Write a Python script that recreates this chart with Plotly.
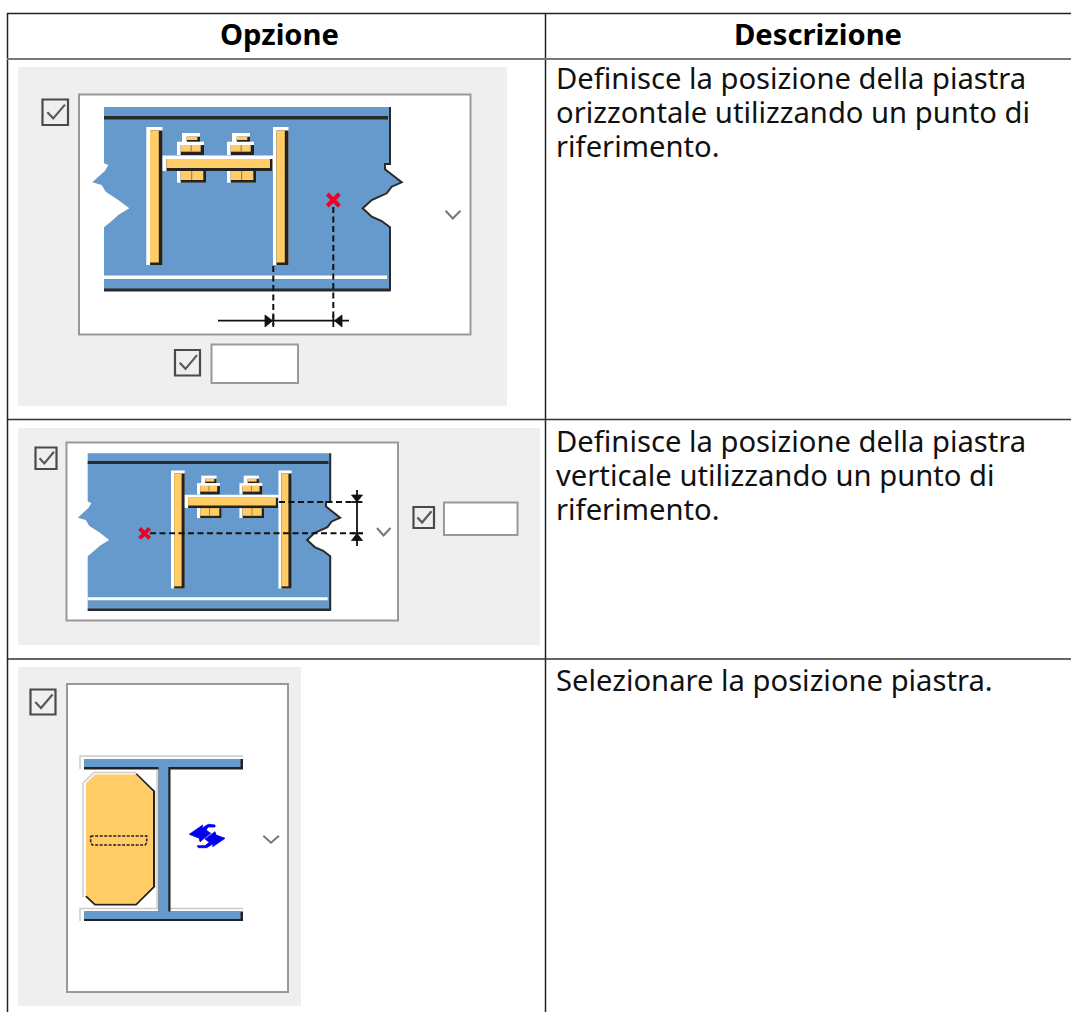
import plotly.graph_objects as go

# ---------- table content ----------
headers = ["Opzione", "Descrizione"]
header_centers = [279, 817.5]
descriptions = [
    ["Definisce la posizione della piastra", "orizzontale utilizzando un punto di", "riferimento."],
    ["Definisce la posizione della piastra", "verticale utilizzando un punto di", "riferimento."],
    ["Selezionare la posizione piastra."],
]
description_first_line = [78, 440.5, 680]
line_step = 34.2
text_x = 554

# ---------- table rules: (x0, y0, x1, y1, colour, width) ----------
table_rules = [
    (7, 13.5, 1071, 13.5, "#222222", 1.5),
    (7.5, 13, 7.5, 1012, "#222222", 1.5),
    (545.5, 13, 545.5, 1012, "#222222", 1.5),
    (7, 59, 1071, 59, "#777777", 2),
    (7, 419.5, 1071, 419.5, "#333333", 1.5),
    (7, 659, 1071, 659, "#333333", 1.5),
]

# ---------- dialog parts ----------
gray_panels = [(18, 67, 507, 406), (18, 428, 540, 645), (18, 667, 301, 1006)]
white_panels = [(79, 94.5, 470.5, 334.5), (66.5, 442.5, 398, 620.5), (67, 684, 288, 992)]
inputs = [(211.5, 344.5, 298, 383), (444, 502.5, 517.5, 535)]
checkboxes = [(42.5, 99.5, 68, 125), (175, 350, 200, 375.5), (35.5, 447.5, 56.5, 469),
              (413.5, 507, 434, 528), (30.5, 689.5, 55.5, 714.5)]
chevrons = [[(445.6, 210.7), (452.8, 218.5), (460.5, 210.7)],
            [(377, 528), (383.5, 535.5), (390.5, 528)],
            [(263.3, 835.7), (271, 842.7), (279, 835.7)]]

# plate outline (row 1 coordinates)
plate_left = [(104, 107), (104, 163.3), (108.3, 165), (105, 170.7), (92.3, 182.3), (101.7, 185), (105.7, 191.7),
              (118.3, 200), (129.3, 208.3), (118.3, 215), (111.7, 221), (104, 227.3), (104, 291)]
plate_right = [(390, 291), (390, 227.3), (381.7, 221), (371.7, 216.7), (362.7, 208.3), (371.7, 200),
               (386.7, 193.3), (391.7, 186.7), (401.7, 182.3), (385, 169.3), (385, 164), (390, 164), (390, 107)]

# stiffener group (row 1 coordinates): (x0, y0, x1, y1, colour)
WHITE, ORANGE, DARK = "#FFFFFF", "#FFCC66", "#222222"
stiffener_parts = [
    (146.3, 127, 162.5, 265, WHITE), (150, 130.5, 162.5, 265, DARK), (150, 130.5, 158.8, 262.5, ORANGE),
    (273, 127, 288.5, 265, WHITE), (276.5, 130.5, 288.5, 265, DARK), (276.5, 130.5, 284.8, 262.5, ORANGE),
    (162.5, 155.5, 273, 171, WHITE), (166.5, 159, 272.5, 171, DARK), (166.5, 159, 270, 168, ORANGE),
]
bolt_parts = [
    (182, 133, 200, 142.8, WHITE), (186.7, 136.7, 200, 142.8, DARK), (186.7, 136.7, 197.3, 140, ORANGE),
    (177, 141.7, 204, 155, WHITE), (180.7, 145, 204, 155, DARK), (180.7, 145, 200.7, 151.7, ORANGE),
    (190.6, 145, 191.6, 151.7, "#887755"),
    (177, 171, 206, 182.7, WHITE), (180.7, 171, 206, 182.7, DARK), (180.7, 171, 203.3, 180, ORANGE),
    (191.2, 171, 192.2, 180, "#887755"),
]
bolt_offset = 50

# transforms for rows: plate and stiffener group (x origin, y origin, x scale, y scale)
plate_maps = [(104, 107, 1.0, 1.0), (87.7, 453.3, 0.848, 0.855)]
group_maps = [(146.3, 127, 1.0, 1.0), (171, 470.5, 0.848, 0.855)]

# section drawing (row 3)
section_gray_lines = [
    [(80, 769), (80, 756), (243, 756)],
    [(80, 921), (80, 908.5), (158, 908.5)],
    [(170, 908.5), (243, 908.5)],
    [(157, 770), (157, 908.5)],
    [(83, 897), (83, 783), (94, 772.5), (136, 772.5)],
]
section_rects = [
    (84, 759, 243, 769.5, DARK), (84, 759, 240.5, 767, "#6699CC"),
    (84, 911.5, 243, 921, DARK), (84, 911.5, 240.5, 919, "#6699CC"),
    (158.5, 767, 170.5, 911.5, DARK), (158.5, 767, 168.3, 919, "#6699CC"),
]
octagon = [(95, 774.5), (136, 774.5), (153, 791.5), (153, 886.5), (136, 903.5),
           (95, 903.5), (86, 895), (86, 783)]
octagon_shadow = [(136, 774), (154, 791.5), (154, 886.5), (136, 904.5), (95, 904.5), (86, 896)]
slot = [(90.7, 836), (146.7, 836), (146.7, 843), (145, 845), (92.5, 845), (90.7, 843), (90.7, 836)]
swap_a = [(189.3, 834.3), (202.7, 825), (201.7, 828.3), (208.3, 824.3), (215, 825), (215, 827), (208.3, 827),
          (206, 830), (210.7, 833.3), (200, 841.7), (199.3, 838.3)]
swap_b = [(225, 838.3), (212.7, 846.7), (213.3, 843.7), (206.7, 847.7), (198.3, 847.7), (197.3, 845.7),
          (205, 845.7), (209.3, 842.3), (205, 839), (215, 831.7), (216, 835)]

# row annotation marks
red_marks = [(333.3, 200, 6), (144.6, 533.3, 5)]
dashed = [[(333.3, 207), (333.3, 320)], [(273.3, 266), (273.3, 325)],
          [(150, 533.3), (363, 533.3)], [(279, 502), (363, 502)]]
solid = [[(218, 320.7), (349, 320.7)], [(333.3, 315), (333.3, 327)], [(273.3, 315), (273.3, 327)],
         [(357, 490), (357, 546)], [(351.5, 533.3), (362.5, 533.3)], [(351.5, 502), (362.5, 502)]]
arrows = [[(265, 315), (272.5, 320.7), (265, 327)], [(342, 315), (334.5, 320.7), (342, 327)],
          [(351.5, 495), (362.5, 495), (357, 502)], [(351.5, 540.5), (362.5, 540.5), (357, 533.5)]]

BLUE = "#6699CC"
shapes = []


def rect(x0, y0, x1, y1, fill, line=None, lw=0):
    shapes.append(dict(type="rect", xref="x", yref="y", x0=x0, y0=y0, x1=x1, y1=y1,
                       fillcolor=fill, line=dict(color=line or fill, width=lw), layer="above"))


def path(pts, color=None, lw=1.5, fill=None, close=False, dash=None):
    d = "M" + " L".join(f"{x:.2f},{y:.2f}" for x, y in pts) + (" Z" if close else "")
    ln = dict(color=color or "rgba(0,0,0,0)", width=lw if color else 0)
    if dash:
        ln["dash"] = dash
    shapes.append(dict(type="path", xref="x", yref="y", path=d,
                       fillcolor=fill or "rgba(0,0,0,0)", line=ln, layer="above"))


for p in gray_panels:
    rect(*p, "#EFEFEF")
for p in white_panels:
    rect(*p, "#FFFFFF", "#999999", 2)
for p in inputs:
    rect(*p, "#FFFFFF", "#999999", 2)
for (x0, y0, x1, y1) in checkboxes:
    rect(x0, y0, x1, y1, "rgba(0,0,0,0)", "#4A4A4A", 2.2)
    w, h = x1 - x0, y1 - y0
    path([(x0 + .19 * w, y0 + .5 * h), (x0 + .42 * w, y0 + .74 * h), (x0 + .88 * w, y0 + .2 * h)], "#5A5A5A", 2.2)
for c in chevrons:
    path(c, "#777777", 2)


def mapper(m, ox, oy):
    return lambda x, y: (m[0] + (x - ox) * m[2], m[1] + (y - oy) * m[3])


for pm, gm in zip(plate_maps, group_maps):
    P = mapper(pm, 104, 107)
    G = mapper(gm, 146.3, 127)
    path([P(*q) for q in plate_left + plate_right], fill=BLUE, close=True)
    path([P(*q) for q in plate_right], "#2A2A2A", 2)
    a, b = P(104, 116), P(388, 119.5)
    rect(a[0], a[1], b[0], b[1], "#2A2A2A")
    a, b = P(104, 275.5), P(387, 279)
    rect(a[0], a[1], b[0], b[1], "#FFFFFF")
    a, b = P(104, 288.5), P(390.5, 291.5)
    rect(a[0], a[1], b[0], b[1], "#2A2A2A")
    for (x0, y0, x1, y1, col) in stiffener_parts:
        a, b = G(x0, y0), G(x1, y1)
        rect(a[0], a[1], b[0], b[1], col)
    for k in (0, bolt_offset):
        for (x0, y0, x1, y1, col) in bolt_parts:
            a, b = G(x0 + k, y0), G(x1 + k, y1)
            rect(a[0], a[1], b[0], b[1], col)

for d in dashed:
    path(d, "#111111", 2, dash="6px,3.5px")
for s in solid:
    path(s, "#111111", 1.8)
for a in arrows:
    path(a, "#111111", 0.8, fill="#111111", close=True)
for (x, y, r) in red_marks:
    path([(x - r, y - r), (x + r, y + r)], "#EE0022", 4)
    path([(x - r, y + r), (x + r, y - r)], "#EE0022", 4)

for g in section_gray_lines:
    path(g, "#CCCCCC", 1.5)
for r in section_rects:
    rect(*r[:4], r[4])
path(octagon_shadow, "#222222", 2.2)
path(octagon, fill="#FFCC66", close=True)
path(slot, "#222222", 1.6, dash="3px,1.5px")
path(swap_a, "#0000EE", 0.8, fill="#0000EE", close=True)
path(swap_b, "#0000EE", 0.8, fill="#0000EE", close=True)

for r in table_rules:
    path([(r[0], r[1]), (r[2], r[3])], r[4], r[5])

annotations = []
FONT = "Noto Sans"
for name, cx in zip(headers, header_centers):
    annotations.append(dict(x=cx, y=33.5, text=f"<b>{name}</b>", showarrow=False, xanchor="center", yanchor="middle",
                            font=dict(family=FONT, size=29.2, color="#000000")))
for lines, y0 in zip(descriptions, description_first_line):
    for i, t in enumerate(lines):
        annotations.append(dict(x=text_x, y=y0 + i * line_step, text=t, showarrow=False, xanchor="left",
                                yanchor="middle", font=dict(family=FONT, size=29.2, color="#111111")))

fig = go.Figure()
fig.update_layout(
    width=1071, height=1012, margin=dict(l=0, r=0, t=0, b=0), showlegend=False,
    paper_bgcolor="#FFFFFF", plot_bgcolor="#FFFFFF", shapes=shapes, annotations=annotations,
    xaxis=dict(range=[0, 1071], visible=False, fixedrange=True),
    yaxis=dict(range=[1012, 0], visible=False, fixedrange=True),
)
fig.write_html("out.html", post_script="document.body.style.margin='0';document.body.style.overflow='hidden';",
               config=dict(displayModeBar=False))
